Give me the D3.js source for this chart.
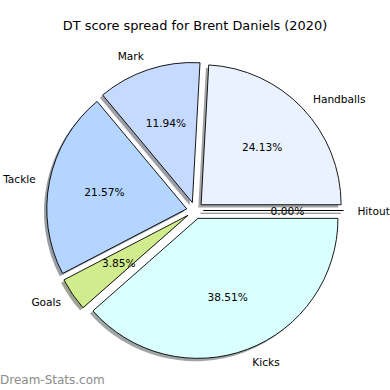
<!DOCTYPE html>
<html>
<head>
<meta charset="utf-8">
<script src="https://cdn.jsdelivr.net/npm/d3@7"></script>
<style>
  body { margin: 0; background: #fff; }
  text { font-family: "DejaVu Sans", sans-serif; }
</style>
</head>
<body>
<div id="chart"></div>
<script>
/* DT score pie, Brent Daniels 2020 */

const categories = ["Hitout", "Handballs", "Mark", "Tackle", "Goals", "Kicks"];
const shares = [0.00, 24.13, 11.94, 21.57, 3.85, 38.51];
const colours = ["#e0ecff", "#ebf2ff", "#c6d9ff", "#b4d5ff", "#d1ec8c", "#daffff"];

const width = 390,
    height = 390,
    cx = 195, cy = 210.5,
    r = 140,
    explode = 0.06; // fraction of radius, like matplotlib

const data = categories.map((c, i) => ({ name: c, value: shares[i] }));

let svg = d3.select("#chart")
    .append("svg")
    .attr("width", width)
    .attr("height", height);

const colour = d3.scaleOrdinal().domain(categories).range(colours);

// matplotlib starts at 3 o'clock and goes anticlockwise
const pie = d3.pie()
    .sort(null)
    .value(d => d.value)
    .startAngle(Math.PI / 2)
    .endAngle(Math.PI / 2 - 2 * Math.PI);

const arc = d3.arc().innerRadius(0).outerRadius(r);
const arcs = pie(data);

const mid = d => (d.startAngle + d.endAngle) / 2;
const off = (d, k) => [Math.sin(mid(d)) * k, -Math.cos(mid(d)) * k];
const shift = d => {
    let o = off(d, explode * r);
    return `translate(${o[0]},${o[1]})`;
};

let g = svg.append("g").attr("transform", `translate(${cx},${cy})`);

// shadows first
g.selectAll(".shadow")
    .data(arcs)
    .join("path")
    .attr("class", "shadow")
    .attr("d", arc)
    .attr("transform", d => {
        let o = off(d, explode * r);
        return `translate(${o[0] - 0.02 * r},${o[1] + 0.02 * r})`;
    })
    .attr("fill", d => {
        let c = d3.rgb(colour(d.data.name));
        return d3.rgb(c.r * 0.3, c.g * 0.3, c.b * 0.3);
    })
    .attr("fill-opacity", 0.5)
    .attr("stroke", d => d.value == 0 ? "#999" : "none")
    .attr("stroke-width", 1);

g.selectAll(".wedge")
    .data(arcs.filter(d => d.value > 0))
    .join("path")
    .attr("class", "wedge")
    .attr("d", arc)
    .attr("transform", shift)
    .attr("fill", d => colour(d.data.name))
    .attr("stroke", "#000")
    .attr("stroke-width", 0.9)
    .attr("stroke-linejoin", "round");

// percent labels at 0.6 r
g.selectAll(".pct")
    .data(arcs)
    .join("text")
    .attr("class", "pct")
    .attr("x", d => off(d, explode * r + 0.6 * r)[0])
    .attr("y", d => off(d, explode * r + 0.6 * r)[1])
    .attr("text-anchor", "middle")
    .attr("dominant-baseline", "central")
    .attr("font-size", 10.6)
    .attr("fill", "#000")
    .text(d => d.data.value.toFixed(2) + "%");

// zero wedge is just a line, drawn over its label
g.selectAll(".zero")
    .data(arcs.filter(d => d.value == 0))
    .join("path")
    .attr("class", "zero")
    .attr("d", arc)
    .attr("transform", shift)
    .attr("fill", "none")
    .attr("stroke", "#000")
    .attr("stroke-width", 0.9);

// category labels at 1.1 r
g.selectAll(".lab")
    .data(arcs)
    .join("text")
    .attr("class", "lab")
    .attr("x", d => off(d, explode * r + 1.1 * r)[0])
    .attr("y", d => off(d, explode * r + 1.1 * r)[1])
    .attr("text-anchor", d => off(d, 1)[0] < 0 ? "end" : "start")
    .attr("dominant-baseline", "central")
    .attr("font-size", 10.6)
    .attr("fill", "#000")
    .text(d => d.data.name);

svg.append("text")
    .attr("x", width / 2)
    .attr("y", 30)
    .attr("text-anchor", "middle")
    .attr("font-size", 12.9)
    .text("DT score spread for Brent Daniels (2020)");

svg.append("text")
    .attr("x", 0)
    .attr("y", 384)
    .attr("font-size", 12)
    .attr("fill", "#8c8c8c")
    .text("Dream-Stats.com");
</script>
</body>
</html>
